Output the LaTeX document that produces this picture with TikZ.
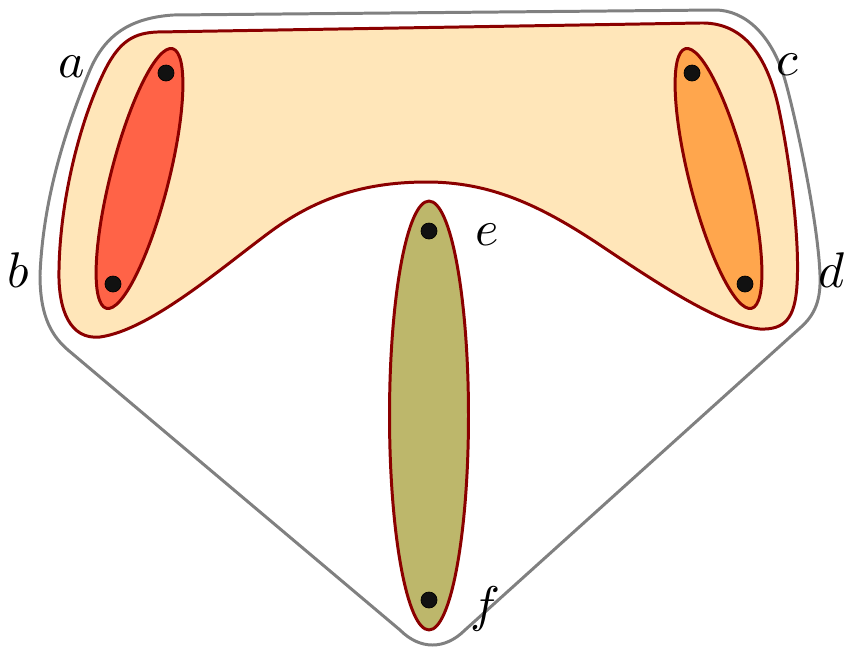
\documentclass[tikz,border=0pt]{standalone}
\usetikzlibrary{shapes.geometric,calc}
\definecolor{rimred}{RGB}{139,0,0}
\definecolor{edgebeige}{RGB}{255,230,185}
\definecolor{edgetomato}{RGB}{255,99,71}
\definecolor{edgeorange}{RGB}{255,166,77}
\definecolor{edgeolive}{RGB}{189,183,107}
\definecolor{vtxblack}{RGB}{17,17,17}
\begin{document}
\begin{tikzpicture}[x=0.02cm, y=-0.02cm, line join=round,
	hedge/.style={ellipse, draw=rimred, line width=1.7pt, inner sep=0pt},
	vertex/.style={circle, fill=vtxblack, draw=black, line width=0.4pt, minimum size=0.32cm, inner sep=0pt},
	lbl/.style={scale=2.85, inner sep=0pt}]
	\useasboundingbox (0,0) rectangle (845,650);
	
	% vertex positions
	\coordinate (pa) at (166,73);
	\coordinate (pb) at (113,284);
	\coordinate (pc) at (692,73);
	\coordinate (pd) at (745,284);
	\coordinate (pe) at (429,231);
	\coordinate (pf) at (429,600);
	
	% outer hyperedge (all vertices)
	\draw[gray, line width=1.7pt] (173,15) -- (715,10)
		.. controls (745,10) and (772,35) .. (785,80)
		.. controls (795,115) and (818,220) .. (820,275)
		.. controls (821,300) and (815,315) .. (800,328)
		-- (465,630)
		.. controls (445,650) and (420,650) .. (400,630)
		-- (68,350)
		.. controls (48,333) and (40,310) .. (40,275)
		.. controls (43,200) and (65,130) .. (90,70)
		.. controls (105,35) and (130,18) .. (173,15) -- cycle;
	
	% hyperedge {a,b,c,d}
	\draw[rimred, fill=edgebeige, line width=1.7pt] (157,32) -- (700,23)
		.. controls (740,22) and (765,50) .. (778,105)
		.. controls (790,160) and (800,240) .. (797,285)
		.. controls (795,318) and (785,330) .. (760,329)
		.. controls (720,325) and (660,285) .. (600,245)
		.. controls (540,205) and (490,182) .. (427,182)
		.. controls (370,182) and (320,195) .. (270,232)
		.. controls (220,269) and (150,330) .. (100,337)
		.. controls (70,340) and (58,310) .. (59,270)
		.. controls (60,200) and (80,120) .. (105,70)
		.. controls (120,40) and (135,33) .. (157,32) -- cycle;
	
	% two-vertex hyperedges
	\node[hedge, fill=edgetomato, minimum width=5.36cm, minimum height=1.16cm, rotate=75.7] (eab) at ($(pa)!0.5!(pb)$) {};
	\node[hedge, fill=edgeorange, minimum width=5.36cm, minimum height=1.16cm, rotate=-75.7] (ecd) at ($(pc)!0.5!(pd)$) {};
	\node[hedge, fill=edgeolive, minimum width=1.58cm, minimum height=8.58cm] (eef) at ($(pe)!0.5!(pf)$) {};
	
	% vertices
	\foreach \v in {a,b,c,d,e,f}
		\node[vertex] (\v) at (p\v) {};
	
	% labels
	\node[lbl] (la) at (72,67) {$a$};
	\node[lbl] (lb) at (18,270) {$b$};
	\node[lbl] (lc) at (787,65) {$c$};
	\node[lbl] (ld) at (832,270) {$d$};
	\node[lbl] (le) at (487,235) {$e$};
	\node[lbl] (lf) at (485,609) {$f$};
	
\end{tikzpicture}
\end{document}
